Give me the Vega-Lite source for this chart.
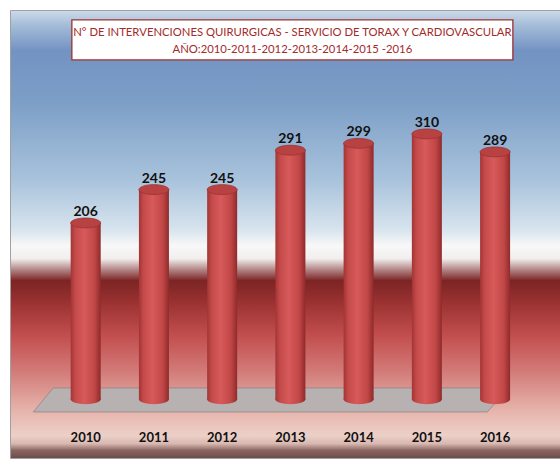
{
  "$schema": "https://vega.github.io/schema/vega-lite/v6.json",
  "autosize": {"type": "none"},
  "width": 550,
  "height": 448,
  "padding": {"left": 10, "top": 10, "right": 0, "bottom": 4},
  "background": "#ffffff",
  "config": {
    "view": {
      "stroke": "#a0a0a0",
      "strokeWidth": 1,
      "fill": {
        "gradient": "linear", "x1": 0, "y1": 0, "x2": 0, "y2": 1,
        "stops": [
          {"offset": 0, "color": "#cddbea"},
          {"offset": 0.033, "color": "#a4bcd8"},
          {"offset": 0.089, "color": "#7393c2"},
          {"offset": 0.2, "color": "#7b9ec6"},
          {"offset": 0.38, "color": "#a9c3dc"},
          {"offset": 0.49, "color": "#d8e4ee"},
          {"offset": 0.525, "color": "#f8f8f8"},
          {"offset": 0.554, "color": "#f2eeee"},
          {"offset": 0.576, "color": "#b89090"},
          {"offset": 0.603, "color": "#7c2424"},
          {"offset": 0.647, "color": "#983030"},
          {"offset": 0.725, "color": "#c24e4e"},
          {"offset": 0.804, "color": "#d27a78"},
          {"offset": 0.893, "color": "#e6b4ac"},
          {"offset": 0.949, "color": "#ecd0c8"},
          {"offset": 0.967, "color": "#d8b8b0"},
          {"offset": 0.982, "color": "#8a6460"},
          {"offset": 1, "color": "#6a4c4a"}
        ]
      }
    }
  },
  "datasets": {
    "bars": [
      {"year": 2010, "value": 206},
      {"year": 2011, "value": 245},
      {"year": 2012, "value": 245},
      {"year": 2013, "value": 291},
      {"year": 2014, "value": 299},
      {"year": 2015, "value": 310},
      {"year": 2016, "value": 289}
    ],
    "annot": [
      {"item": "floor", "year": 2012.712, "value": -0.8, "label": ""},
      {"item": "box", "year": 2013.029, "value": 419.8, "label": ""},
      {"item": "title", "year": 2013.029, "value": 428.5, "label": "N° DE INTERVENCIONES QUIRURGICAS - SERVICIO DE TORAX Y CARDIOVASCULAR"},
      {"item": "title", "year": 2013.029, "value": 408.5, "label": "AÑO:2010-2011-2012-2013-2014-2015 -2016"}
    ]
  },
  "layer": [
    {
      "data": {"name": "annot"},
      "transform": [{"filter": "datum.item === 'floor'"}],
      "mark": {
        "type": "point",
        "shape": "M -1 0.0505 L -0.916 -0.0505 L 1 -0.0505 L 0.912 0.0505 Z",
        "size": 225625,
        "filled": true,
        "fill": "#b8b1b1",
        "stroke": "#8a8080",
        "strokeWidth": 0.7,
        "opacity": 1
      },
      "encoding": {
        "x": {"field": "year", "type": "quantitative", "axis": null, "scale": {"domain": [2008.964, 2016.878], "nice": false, "zero": false}},
        "y": {"field": "value", "type": "quantitative", "axis": null, "scale": {"domain": [-68.6, 454.8], "nice": false, "zero": false}}
      }
    },
    {
      "data": {"name": "bars"},
      "mark": {
        "type": "point",
        "shape": "M -1 0 A 1 0.33 0 1 1 1 0 A 1 0.33 0 1 1 -1 0 Z",
        "size": 900,
        "filled": true,
        "opacity": 1,
        "fill": {
          "gradient": "linear", "x1": 0, "y1": 0, "x2": 1, "y2": 0,
          "stops": [
            {"offset": 0, "color": "#a33434"},
            {"offset": 0.15, "color": "#c44a4a"},
            {"offset": 0.45, "color": "#d85a5a"},
            {"offset": 0.8, "color": "#c04646"},
            {"offset": 1, "color": "#8f2a2a"}
          ]
        }
      },
      "encoding": {
        "x": {"field": "year", "type": "quantitative", "axis": null},
        "y": {"datum": 0, "type": "quantitative", "axis": null}
      }
    },
    {
      "data": {"name": "bars"},
      "mark": {
        "type": "bar",
        "width": 30,
        "fill": {
          "gradient": "linear", "x1": 0, "y1": 0, "x2": 1, "y2": 0,
          "stops": [
            {"offset": 0, "color": "#a33434"},
            {"offset": 0.15, "color": "#c44a4a"},
            {"offset": 0.45, "color": "#d85a5a"},
            {"offset": 0.8, "color": "#c04646"},
            {"offset": 1, "color": "#8f2a2a"}
          ]
        }
      },
      "encoding": {
        "x": {"field": "year", "type": "quantitative", "axis": null},
        "y": {"field": "value", "type": "quantitative", "axis": null},
        "y2": {"datum": 0}
      }
    },
    {
      "data": {"name": "bars"},
      "mark": {
        "type": "point",
        "shape": "M -1 0 A 1 0.33 0 1 1 1 0 A 1 0.33 0 1 1 -1 0 Z",
        "size": 900,
        "filled": true,
        "opacity": 1,
        "fill": "#b84242",
        "stroke": "#9c3232",
        "strokeWidth": 0.8
      },
      "encoding": {
        "x": {"field": "year", "type": "quantitative", "axis": null},
        "y": {"field": "value", "type": "quantitative", "axis": null}
      }
    },
    {
      "data": {"name": "bars"},
      "mark": {
        "type": "text",
        "baseline": "bottom",
        "dy": -4,
        "font": "Lato",
        "fontSize": 14,
        "fontWeight": "bold",
        "color": "#111111"
      },
      "encoding": {
        "x": {"field": "year", "type": "quantitative", "axis": null},
        "y": {"field": "value", "type": "quantitative", "axis": null},
        "text": {"field": "value", "type": "quantitative", "format": "d"}
      }
    },
    {
      "data": {"name": "bars"},
      "mark": {
        "type": "text",
        "baseline": "middle",
        "font": "Lato",
        "fontSize": 13,
        "fontWeight": "bold",
        "color": "#111111"
      },
      "encoding": {
        "x": {"field": "year", "type": "quantitative", "axis": null},
        "y": {"datum": -44.9, "type": "quantitative", "axis": null},
        "text": {"field": "year", "type": "quantitative", "format": "d"}
      }
    },
    {
      "data": {"name": "annot"},
      "transform": [{"filter": "datum.item === 'box'"}],
      "mark": {"type": "rect", "fill": "#ffffff", "stroke": "#a03030", "strokeWidth": 1.3, "width": 441, "height": 40},
      "encoding": {
        "x": {"field": "year", "type": "quantitative", "axis": null},
        "y": {"field": "value", "type": "quantitative", "axis": null}
      }
    },
    {
      "data": {"name": "annot"},
      "transform": [{"filter": "datum.item === 'title'"}],
      "mark": {
        "type": "text",
        "baseline": "middle",
        "align": "center",
        "font": "Lato",
        "fontSize": 11.3,
        "color": "#a32a2a"
      },
      "encoding": {
        "x": {"field": "year", "type": "quantitative", "axis": null},
        "y": {"field": "value", "type": "quantitative", "axis": null},
        "text": {"field": "label", "type": "nominal"}
      }
    }
  ]
}
